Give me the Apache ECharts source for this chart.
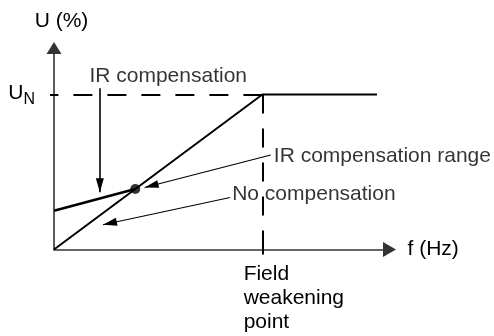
<!DOCTYPE html>
<html>
<head>
<meta charset="utf-8">
<script src="https://cdn.jsdelivr.net/npm/echarts@6/dist/echarts.min.js"></script>
<style>
  html, body { margin: 0; padding: 0; background: #fff; }
  #chart { width: 494px; height: 336px; }
</style>
</head>
<body>
<div id="chart"></div>
<script>
  // f in % of the field weakening point, U in % of U_N
  const fieldWeakeningPoint = 100;
  const uNominal = 100;
  const noCompF = [0, 100, 155];
  const noCompU = [0, 100, 100];
  const irCompF = [0, 39];
  const irCompU = [25, 39];
  const junctionPoint = [39, 39];

  // annotation texts, where they sit, and their arrows (from -> tip)
  const labelTexts = ['IR compensation', 'IR compensation range', 'No compensation'];
  const labelPos = [[17, 111.5], [105.5, 60.5], [85.5, 35.5]];
  const arrowFrom = [[22, 104], [104, 61], [84.5, 33.5]];
  const arrowTo = [[22, 37], [43.5, 40], [23.5, 16]];

  const xTickLabel = 'Field\nweakening\npoint';
  const xLabelAt = 91;
  const yTickLabel = '{u|U}{n|N}';

  const FONT = '"Liberation Sans", Arial, Helvetica, sans-serif';
  const AXIS_COLOR = '#333';

  let chart = echarts.init(document.getElementById('chart'));

  // arrows: plain start, triangle at the tip
  let arrowData = arrowFrom.map((p, i) => [
    {coord: p, symbol: 'none'},
    {coord: arrowTo[i], symbol: 'triangle', symbolSize: [8, 14], symbolOffset: [0, 7],
     lineStyle: {width: i === 0 ? 1.6 : 1.1}}
  ]);

  chart.setOption({
    animation: false,
    textStyle: {fontFamily: FONT, color: '#000'},
    grid: {left: 54, right: 104.5, top: 48, bottom: 86.5, outerBoundsMode: 'none'},
    xAxis: {
      type: 'value',
      min: 0,
      max: 161,
      name: 'f (Hz)',
      nameLocation: 'end',
      nameGap: 18,
      nameTextStyle: {fontSize: 21, color: '#000', fontFamily: FONT},
      splitLine: {show: false},
      axisLine: {
        symbol: ['none', 'triangle'],
        symbolSize: [15, 13],
        lineStyle: {color: AXIS_COLOR, width: 1.6}
      },
      axisTick: {customValues: [fieldWeakeningPoint], length: 5, lineStyle: {color: '#000', width: 2}},
      axisLabel: {
        customValues: [xLabelAt],
        formatter: () => xTickLabel,
        align: 'left',
        verticalAlign: 'top',
        lineHeight: 24,
        margin: 13,
        fontSize: 21,
        color: '#000',
        fontFamily: FONT
      }
    },
    yAxis: {
      type: 'value',
      min: 0,
      max: 130,
      name: 'U (%)',
      nameLocation: 'end',
      nameGap: 16,
      nameTextStyle: {fontSize: 21, color: '#000', fontFamily: FONT, padding: [0, 0, 0, 15]},
      splitLine: {show: false},
      axisLine: {
        symbol: ['none', 'triangle'],
        symbolSize: [15, 12],
        lineStyle: {color: AXIS_COLOR, width: 1.6}
      },
      axisTick: {customValues: [uNominal], length: 4, lineStyle: {color: '#000', width: 2}},
      axisLabel: {
        customValues: [uNominal],
        formatter: () => yTickLabel,
        margin: 19,
        color: '#000',
        rich: {
          u: {fontSize: 21, fontFamily: FONT, color: '#000', padding: [0, 0, 3, 0]},
          n: {fontSize: 16, fontFamily: FONT, color: '#000', padding: [10, 0, 0, 0]}
        }
      }
    },
    series: [
      {
        name: 'No compensation',
        type: 'line',
        data: noCompF.map((f, i) => [f, noCompU[i]]),
        symbol: 'none',
        lineStyle: {color: '#000', width: 2},
        markLine: {
          silent: true,
          symbol: 'none',
          label: {show: false},
          lineStyle: {color: '#000', width: 2, type: [19, 15]},
          data: [
            [{coord: [fieldWeakeningPoint, uNominal]}, {coord: [0, uNominal]}],
            [{coord: [fieldWeakeningPoint, uNominal]}, {coord: [fieldWeakeningPoint, 0]}]
          ]
        }
      },
      {
        name: 'IR compensation',
        type: 'line',
        data: irCompF.map((f, i) => [f, irCompU[i]]),
        symbol: 'none',
        lineStyle: {color: '#000', width: 2.6},
        markLine: {
          silent: true,
          label: {show: false},
          lineStyle: {color: '#000', type: 'solid'},
          itemStyle: {color: '#000'},
          data: arrowData
        }
      },
      {
        type: 'scatter',
        data: [junctionPoint],
        symbolSize: 10,
        itemStyle: {color: '#000'}
      },
      {
        type: 'scatter',
        data: labelPos.map((p, i) => ({value: p, name: labelTexts[i]})),
        symbolSize: 0,
        silent: true,
        label: {
          show: true,
          position: 'right',
          distance: 0,
          formatter: '{b}',
          fontSize: 21,
          color: '#000',
          fontFamily: FONT
        }
      }
    ]
  });
</script>
</body>
</html>
